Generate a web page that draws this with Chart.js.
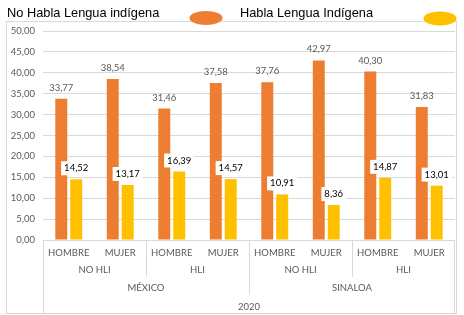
<!DOCTYPE html>
<html>
<head>
<meta charset="utf-8">
<script src="https://cdn.jsdelivr.net/npm/chart.js@4"></script>
<style>
  html, body { margin: 0; padding: 0; background: #fff; }
</style>
</head>
<body>
<canvas id="chartlengua" width="464" height="315"></canvas>
<script>
const categorias = ['HOMBRE', 'MUJER', 'HOMBRE', 'MUJER', 'HOMBRE', 'MUJER', 'HOMBRE', 'MUJER'];
const grupos = ['NO HLI', 'HLI', 'NO HLI', 'HLI'];
const regiones = ['MÉXICO', 'SINALOA'];
const anio = '2020';
const noHabla = [33.77, 38.54, 31.46, 37.58, 37.76, 42.97, 40.30, 31.83];
const habla = [14.52, 13.17, 16.39, 14.57, 10.91, 8.36, 14.87, 13.01];
const nombres = ['No Habla Lengua indígena', 'Habla Lengua Indígena'];
const colores = ['#ed7d31', '#ffc000'];

const fuente = 'Lato, "Liberation Sans", sans-serif';
const gris = '#595959';
const lineaGris = '#d9d9d9';

const coma = v => v.toFixed(2).replace('.', ',');

// marco y leyenda
const marco = {
  id: 'marco',
  beforeDraw(chart) {
    const ctx = chart.ctx;
    ctx.save();
    ctx.fillStyle = '#fff';
    ctx.fillRect(0, 0, chart.width, chart.height);
    ctx.strokeStyle = lineaGris;
    ctx.lineWidth = 1;
    ctx.strokeRect(6.5, 21.5, 450, 292);
    ctx.restore();
  },
  afterDraw(chart) {
    const ctx = chart.ctx;
    ctx.save();
    ctx.font = '12.8px "Liberation Sans", Arial, sans-serif';
    ctx.fillStyle = '#000';
    ctx.textBaseline = 'alphabetic';
    ctx.textAlign = 'left';
    ctx.fillText(nombres[0], 7, 17);
    ctx.fillText(nombres[1], 240, 17);
    const elipses = [[206, 18, 0], [440, 18.5, 1]];
    elipses.forEach(([cx, cy, i]) => {
      ctx.beginPath();
      ctx.ellipse(cx, cy, 16.5, 7, 0, 0, Math.PI * 2);
      ctx.fillStyle = colores[i];
      ctx.fill();
    });
    ctx.restore();
  }
};

// etiquetas de datos
const etiquetas = {
  id: 'etiquetas',
  afterDatasetsDraw(chart) {
    const ctx = chart.ctx;
    ctx.save();
    ctx.font = '9.5px ' + fuente;
    ctx.textAlign = 'center';
    ctx.textBaseline = 'middle';
    chart.data.datasets.forEach((ds, di) => {
      chart.getDatasetMeta(di).data.forEach((bar, i) => {
        const txt = coma(ds.data[i]);
        const y = bar.y - 11;
        if (di === 1) {
          const w = ctx.measureText(txt).width + 6;
          ctx.fillStyle = '#fff';
          ctx.fillRect(bar.x - w / 2, y - 7, w, 14);
          ctx.fillStyle = '#000';
        } else {
          ctx.fillStyle = gris;
        }
        ctx.fillText(txt, bar.x, y);
      });
    });
    ctx.restore();
  }
};

// eje x en varios niveles
const ejeNiveles = {
  id: 'ejeNiveles',
  afterDraw(chart) {
    const ctx = chart.ctx;
    const x = chart.scales.x;
    const base = chart.chartArea.bottom;
    const borde = i => (x.getPixelForValue(i) + x.getPixelForValue(i + 1)) / 2;
    const izq = chart.chartArea.left, der = chart.chartArea.right;
    ctx.save();
    ctx.strokeStyle = lineaGris;
    ctx.lineWidth = 1;
    const linea = (px, y2) => {
      px = Math.round(px) + 0.5;
      ctx.beginPath();
      ctx.moveTo(px, base);
      ctx.lineTo(px, y2);
      ctx.stroke();
    };
    linea(borde(1), base + 37);
    linea(borde(5), base + 37);
    linea(borde(3), base + 55);
    linea(izq, base + 73);
    linea(der - 1, base + 73);

    ctx.font = '9.5px ' + fuente;
    ctx.fillStyle = gris;
    ctx.textAlign = 'center';
    ctx.textBaseline = 'middle';
    grupos.forEach((g, k) => {
      const cx = (x.getPixelForValue(2 * k) + x.getPixelForValue(2 * k + 1)) / 2;
      ctx.fillText(g, cx, base + 30);
    });
    regiones.forEach((r, k) => {
      const cx = (x.getPixelForValue(4 * k) + x.getPixelForValue(4 * k + 3)) / 2;
      ctx.fillText(r, cx, base + 48);
    });
    ctx.fillText(anio, (izq + der) / 2, base + 67);
    ctx.restore();
  }
};

const data = {
  labels: categorias,
  datasets: [{
    label: nombres[0],
    data: noHabla,
    backgroundColor: colores[0],
    borderWidth: 0,
  }, {
    label: nombres[1],
    data: habla,
    backgroundColor: colores[1],
    borderWidth: 0,
  }]
};

const config = {
  type: 'bar',
  data: data,
  options: {
    responsive: false,
    animation: false,
    devicePixelRatio: 1,
    categoryPercentage: 0.58,
    barPercentage: 0.8,
    layout: {
      padding: { top: 31, left: 6, right: 9, bottom: 0 },
    },
    plugins: {
      legend: { display: false },
      tooltip: { enabled: false },
    },
    scales: {
      x: {
        grid: { display: false, drawTicks: false },
        border: { display: false },
        ticks: {
          color: gris,
          font: { family: fuente, size: 9.5 },
          padding: 7,
          maxRotation: 0,
          autoSkip: false,
        },
        afterFit(s) { s.height = 75; },
      },
      y: {
        min: 0,
        max: 50,
        grid: { color: lineaGris, drawTicks: false },
        border: { display: false },
        ticks: {
          stepSize: 5,
          padding: 8,
          color: gris,
          font: { family: fuente, size: 9.5 },
          callback: v => coma(v),
        },
        afterFit(s) { s.width = 37; },
      },
    },
  },
  plugins: [marco, etiquetas, ejeNiveles],
};

const chartlengua = new Chart(document.getElementById('chartlengua'), config);
</script>
</body>
</html>
